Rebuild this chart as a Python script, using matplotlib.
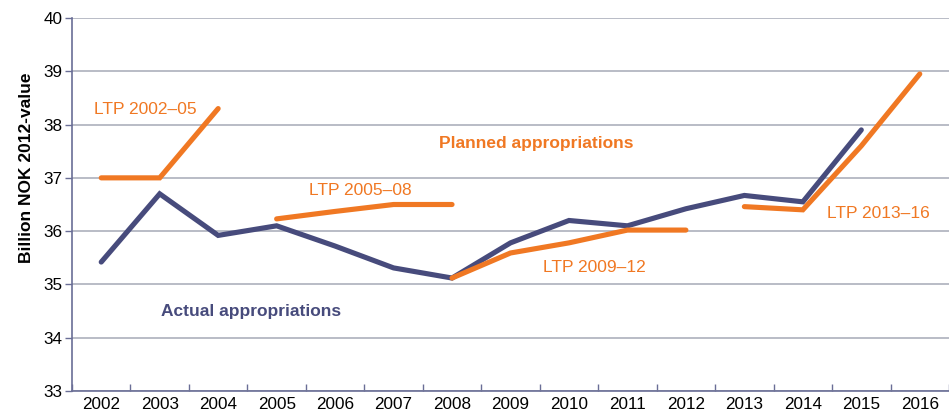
import matplotlib.pyplot as plt
import numpy as np

plt.rcParams['font.family'] = ['Liberation Sans', 'DejaVu Sans']

years = [str(y) for y in range(2002, 2017)]

actual_years = list(range(2002, 2016))
actual = [35.42, 36.70, 35.92, 36.10, 35.72, 35.31, 35.12, 35.78, 36.20, 36.10, 36.42, 36.67, 36.55, 37.90]

ltp_0205_years = [2002, 2003, 2004]
ltp_0205 = [37.0, 37.0, 38.3]
ltp_0508_years = [2005, 2006, 2007, 2008]
ltp_0508 = [36.23, 36.37, 36.50, 36.50]
ltp_0912_years = [2008, 2009, 2010, 2011, 2012]
ltp_0912 = [35.12, 35.59, 35.78, 36.02, 36.02]
ltp_1316_years = [2013, 2014, 2015, 2016]
ltp_1316 = [36.46, 36.40, 37.60, 38.95]

navy = '#474b7c'
orange = '#f07823'
grid_col = '#a6a9b6'
spine_col = '#6a6e96'

fig = plt.figure(figsize=(9.49, 4.16), dpi=100)
ax = fig.add_axes([72 / 949, 1 - 391 / 416, 1 - 72 / 949, (391 - 18) / 416])

def xpos(yrs):
    return [y - 2002 for y in yrs]

lw = 3.7
ax.plot(xpos(actual_years), actual, color=navy, lw=lw, solid_capstyle='round', solid_joinstyle='miter', zorder=3)
for yrs, vals in [(ltp_0205_years, ltp_0205), (ltp_0508_years, ltp_0508),
                  (ltp_0912_years, ltp_0912), (ltp_1316_years, ltp_1316)]:
    ax.plot(xpos(yrs), vals, color=orange, lw=lw, solid_capstyle='round', solid_joinstyle='miter', zorder=4)

ax.set_xlim(-0.5, 14.5)
ax.set_ylim(33, 40)
ax.set_yticks(range(33, 41))
ax.yaxis.grid(True, color=grid_col, lw=1.1)
ax.set_axisbelow(True)

ax.set_xticks(np.arange(-0.5, 15, 1))
ax.set_xticklabels([])
ax.set_xticks(range(15), minor=True)
ax.set_xticklabels(years, minor=True)
ax.tick_params(axis='x', which='major', length=5, direction='in', color=spine_col, width=1)
ax.tick_params(axis='x', which='minor', length=0, labelsize=12.3, pad=4)
ax.tick_params(axis='y', length=5, direction='out', color=spine_col, width=1, labelsize=12.3, pad=2)

for s in ['top', 'right']:
    ax.spines[s].set_visible(False)
for s in ['left', 'bottom']:
    ax.spines[s].set_color(spine_col)
    ax.spines[s].set_linewidth(1.2)

ax.set_ylabel('Billion NOK 2012-value', fontsize=12.5, fontweight='bold')
ax.yaxis.set_label_coords(-0.0433, 0.598)

fs = 12.5
ax.text(-0.12, 38.29, 'LTP 2002–05', color=orange, fontsize=fs, va='center', ha='left')
ax.text(3.56, 36.76, 'LTP 2005–08', color=orange, fontsize=fs, va='center', ha='left')
ax.text(7.55, 35.31, 'LTP 2009–12', color=orange, fontsize=fs, va='center', ha='left')
ax.text(12.41, 36.34, 'LTP 2013–16', color=orange, fontsize=fs, va='center', ha='left')
ax.text(5.77, 37.64, 'Planned appropriations', color=orange, fontsize=fs, fontweight='bold', va='center', ha='left')
ax.text(1.02, 34.50, 'Actual appropriations', color=navy, fontsize=fs, fontweight='bold', va='center', ha='left')

plt.savefig('out.png', dpi=100)
